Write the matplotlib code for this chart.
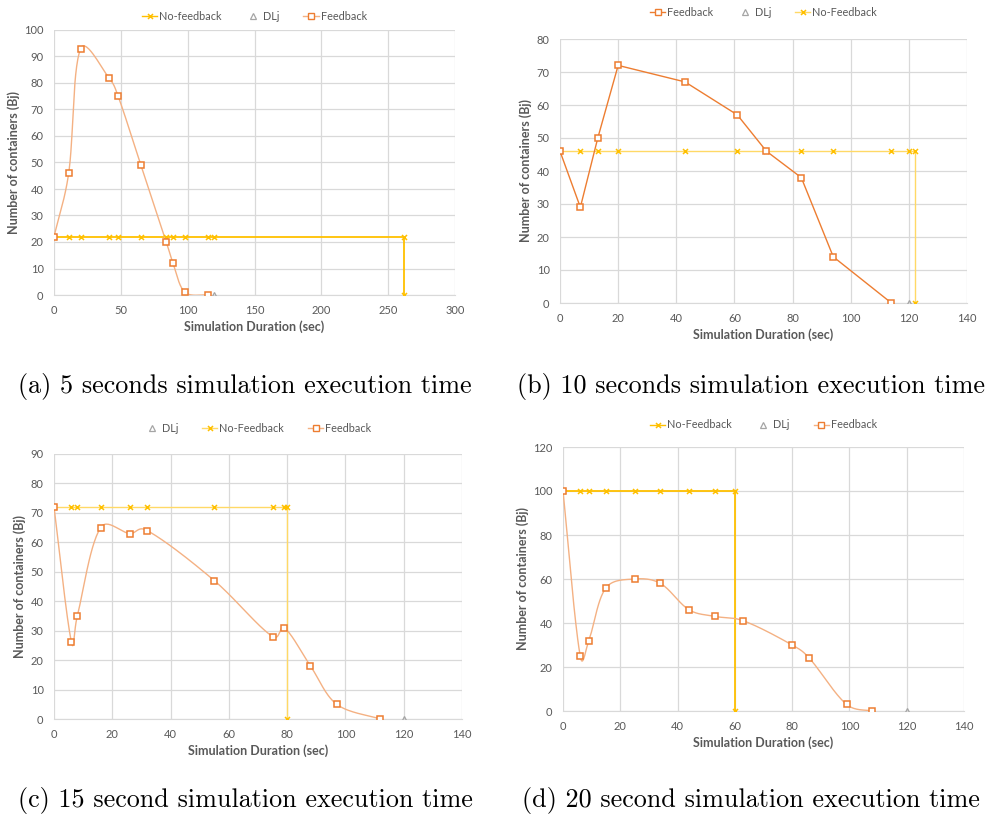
import numpy as np
import matplotlib
matplotlib.use("Agg")
import matplotlib.pyplot as plt
from matplotlib.lines import Line2D

W, H = 987, 818

# ---- data ----
# (a) 5 s
a_fb_x = [0, 11, 20, 41, 48, 65, 84, 89, 98, 115]
a_fb_y = [22, 46, 93, 82, 75, 49, 20, 12, 1, 0]
a_nf_x = [0, 11, 20, 41, 48, 65, 84, 89, 98, 115, 120, 262, 262]
a_nf_y = [22, 22, 22, 22, 22, 22, 22, 22, 22, 22, 22, 22, 0]
a_dl_x = [120]
a_dl_y = [0]

# (b) 10 s
b_fb_x = [0, 7, 13, 20, 43, 61, 71, 83, 94, 114]
b_fb_y = [46, 29, 50, 72, 67, 57, 46, 38, 14, 0]
b_nf_x = [0, 7, 13, 20, 43, 61, 71, 83, 94, 114, 120, 122, 122]
b_nf_y = [46, 46, 46, 46, 46, 46, 46, 46, 46, 46, 46, 46, 0]
b_dl_x = [120]
b_dl_y = [0]

# (c) 15 s
c_fb_x = [0, 6, 8, 16, 26, 32, 55, 75, 79, 88, 97, 112]
c_fb_y = [72, 26, 35, 65, 63, 64, 47, 28, 31, 18, 5, 0]
c_nf_x = [0, 6, 8, 16, 26, 32, 55, 75, 79, 80, 80]
c_nf_y = [72, 72, 72, 72, 72, 72, 72, 72, 72, 72, 0]
c_dl_x = [120]
c_dl_y = [0]

# (d) 20 s
d_fb_x = [0, 6, 9, 15, 25, 34, 44, 53, 63, 80, 86, 99, 108]
d_fb_y = [100, 25, 32, 56, 60, 58, 46, 43, 41, 30, 24, 3, 0]
d_nf_x = [0, 6, 9, 15, 25, 34, 44, 53, 60, 60]
d_nf_y = [100, 100, 100, 100, 100, 100, 100, 100, 100, 0]
d_dl_x = [120]
d_dl_y = [0]

captions = ["(a) 5 seconds simulation execution time",
            "(b) 10 seconds simulation execution time",
            "(c) 15 second simulation execution time",
            "(d) 20 second simulation execution time"]

ORANGE = "#ED7D31"
ORANGE_LT = "#F4B183"
YELLOW = "#FFC000"
YELLOW_LT = "#FFD966"
GRAY = "#A5A5A5"
TXT = "#595959"
FONT = "Lato"


def smooth(x, y, sx, sy, n=30):
    # excel-like smoothed line: bezier segments, handles partly weighted
    # by segment length in screen space
    p = np.column_stack([x, y]).astype(float)
    q = p * [sx, sy]
    out = [p[0]]
    m = len(p)
    for i in range(m - 1):
        i0, i3 = max(i - 1, 0), min(i + 2, m - 1)
        p0, p1, p2, p3 = p[i0], p[i], p[i + 1], p[i3]
        d01 = np.hypot(*(q[i] - q[i0]))
        d12 = np.hypot(*(q[i + 1] - q[i]))
        d23 = np.hypot(*(q[i3] - q[i + 1]))
        f1 = d12 / (d01 + d12) if d01 + d12 > 0 else 0.5
        f2 = d12 / (d12 + d23) if d12 + d23 > 0 else 0.5
        f1 = 0.5 * (f1 / 3.0) + 0.5 / 6.0
        f2 = 0.5 * (f2 / 3.0) + 0.5 / 6.0
        c1 = p1 + (p2 - p0) * f1
        c2 = p2 - (p3 - p1) * f2
        t = np.linspace(0, 1, n)[1:, None]
        seg = ((1 - t) ** 3) * p1 + 3 * ((1 - t) ** 2) * t * c1 \
            + 3 * (1 - t) * t ** 2 * c2 + t ** 3 * p2
        out.extend(seg)
    out = np.array(out)
    return out[:, 0], out[:, 1]


def box(l, t, r, b):
    return [l / W, 1 - b / H, (r - l) / W, (b - t) / H]


fig = plt.figure(figsize=(W / 100, H / 100), dpi=100)


def panel(rect, fb, nf, dl, xmax, xstep, ymax, ystep, fb_smooth,
          fb_lc, fb_lw, nf_lc, nf_lw, order, legend_y):
    ax = fig.add_axes(box(*rect))
    fbx, fby = fb
    if fb_smooth:
        sx, sy = smooth(fbx, fby, (rect[2] - rect[0]) / xmax,
                        (rect[3] - rect[1]) / ymax)
    else:
        sx, sy = fbx, fby
    ax.plot(sx, sy, color=fb_lc, lw=fb_lw, zorder=3)
    ax.plot(fbx, fby, ls="none", marker="s", ms=4.6, mfc="white",
            mec=ORANGE, mew=1.1, zorder=5)
    ax.plot(nf[0], nf[1], color=nf_lc, lw=nf_lw, zorder=2)
    ax.plot(nf[0], nf[1], ls="none", marker="x", ms=3.6, mec=YELLOW,
            mew=1.1, zorder=4)
    ax.plot(dl[0], dl[1], ls="none", marker="^", ms=4.6, mfc="none",
            mec=GRAY, mew=0.9, zorder=4)

    ax.set_xlim(0, xmax)
    ax.set_ylim(0, ymax)
    ax.set_xticks(np.arange(0, xmax + 1, xstep))
    ax.set_yticks(np.arange(0, ymax + 1, ystep))
    ax.grid(True, color="#D9D9D9", lw=0.9)
    ax.set_axisbelow(True)
    for s in ax.spines.values():
        s.set_visible(False)
    ax.spines["bottom"].set_visible(True)
    ax.spines["bottom"].set_color("#D9D9D9")
    ax.tick_params(length=0, labelsize=8, labelcolor=TXT)
    ax.tick_params(axis="x", pad=7)
    ax.tick_params(axis="y", pad=7.5)
    for lab in ax.get_xticklabels() + ax.get_yticklabels():
        lab.set_fontfamily(FONT)
    ax.set_ylabel("Number of containers (Bj)", fontsize=9, color=TXT,
                  fontweight="bold", family=FONT, labelpad=3)
    ax.set_xlabel("Simulation Duration (sec)", fontsize=9, color=TXT,
                  fontweight="bold", family=FONT, labelpad=3)

    handles = {
        "nf": Line2D([], [], color=nf_lc, lw=1, marker="x", ms=3.6,
                     mec=YELLOW, mew=1.1),
        "dl": Line2D([], [], ls="none", marker="^", ms=4.6, mfc="none",
                     mec=GRAY, mew=0.9),
        "fb": Line2D([], [], color=fb_lc, lw=1, marker="s", ms=4.6,
                     mfc="white", mec=ORANGE, mew=1.0),
    }
    labels = {"dl": "DLj"}
    labels.update(order[1])
    hs = [handles[k] for k in order[0]]
    ls = [labels[k] for k in order[0]]
    cx = (rect[0] + rect[2]) / 2 / W
    leg = fig.legend(hs, ls, loc="center", ncol=3, frameon=False,
                     bbox_to_anchor=(cx, 1 - legend_y / H),
                     prop={"family": FONT, "size": 7.8},
                     handlelength=1.4, columnspacing=2.2, handletextpad=0.2)
    for t in leg.get_texts():
        t.set_color(TXT)
    return ax


panel((54, 30, 455, 295), (a_fb_x, a_fb_y), (a_nf_x, a_nf_y),
      (a_dl_x, a_dl_y), 300, 50, 100, 10, True,
      ORANGE_LT, 1.0, YELLOW, 1.3,
      (["nf", "dl", "fb"], {"nf": "No-feedback", "fb": "Feedback"}), 16)

panel((560, 39, 967, 303), (b_fb_x, b_fb_y), (b_nf_x, b_nf_y),
      (b_dl_x, b_dl_y), 140, 20, 80, 10, False,
      ORANGE, 1.0, YELLOW_LT, 1.0,
      (["fb", "dl", "nf"], {"nf": "No-Feedback", "fb": "Feedback"}), 12)

panel((54, 454, 462, 719), (c_fb_x, c_fb_y), (c_nf_x, c_nf_y),
      (c_dl_x, c_dl_y), 140, 20, 90, 10, True,
      ORANGE_LT, 1.0, YELLOW_LT, 1.0,
      (["dl", "nf", "fb"], {"nf": "No-Feedback", "fb": "Feedback"}), 428)

panel((563, 447, 964, 711), (d_fb_x, d_fb_y), (d_nf_x, d_nf_y),
      (d_dl_x, d_dl_y), 140, 20, 120, 20, True,
      ORANGE_LT, 1.0, YELLOW, 1.3,
      (["nf", "dl", "fb"], {"nf": "No-Feedback", "fb": "Feedback"}), 425)

cap_pos = [(18, 387), (517, 387), (18, 801), (522, 801)]
for (x, y), txt in zip(cap_pos, captions):
    fig.text(x / W, 1 - y / H, txt, fontsize=18.8, family="cmr10",
             va="center", ha="left", color="black")

fig.savefig("out.png", dpi=100)
